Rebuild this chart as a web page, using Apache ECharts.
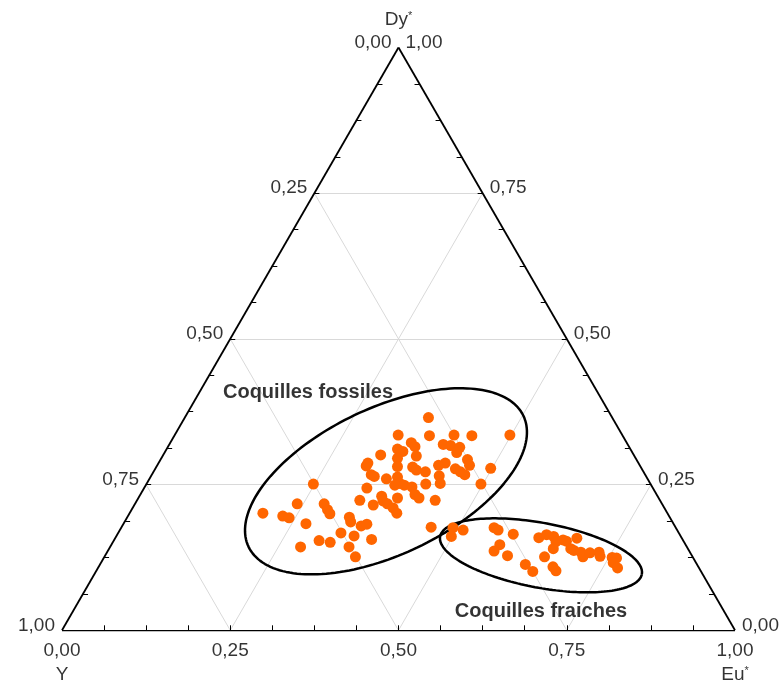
<!DOCTYPE html>
<html>
<head>
<meta charset="utf-8">
<script src="https://cdn.jsdelivr.net/npm/echarts@6/dist/echarts.min.js"></script>
<style>html,body{margin:0;padding:0;background:#fff}#chart{width:783px;height:684px}</style>
</head>
<body>
<div id="chart"></div>
<script>
// Ternary components: Eu* (bottom), Dy* (apex), Y = 1 - Eu* - Dy*
const fossilEu = [0.198,0.230,0.241,0.241,0.271,0.283,0.248,0.305,0.323,0.281,0.291,0.298,0.331,0.330,0.336,0.353,0.355,0.373,0.355,0.362,0.382,0.331,0.331,0.355,0.360,0.366,0.375,0.387,0.397,0.385,0.311,0.311,0.326,0.332,0.323,0.352,0.332,0.343,0.353,0.351,0.358,0.367,0.376,0.370,0.384,0.397,0.408,0.417,0.358,0.367,0.377,0.381,0.389,0.404,0.415,0.362,0.379,0.443,0.428,0.436,0.407,0.419,0.415,0.434,0.434,0.442,0.426,0.418,0.446,0.456,0.465,0.456,0.464,0.498,0.497,0.498,0.460];
const fossilDy = [0.201,0.196,0.193,0.217,0.183,0.143,0.251,0.154,0.151,0.217,0.207,0.200,0.167,0.194,0.186,0.162,0.143,0.126,0.179,0.182,0.156,0.223,0.244,0.215,0.230,0.222,0.217,0.210,0.201,0.227,0.282,0.287,0.267,0.264,0.301,0.260,0.335,0.311,0.307,0.295,0.281,0.263,0.252,0.249,0.249,0.246,0.233,0.227,0.322,0.315,0.299,0.280,0.275,0.272,0.251,0.365,0.334,0.223,0.265,0.252,0.319,0.317,0.335,0.314,0.305,0.334,0.287,0.283,0.277,0.272,0.267,0.293,0.283,0.278,0.251,0.335,0.177];
const freshEu = [0.493,0.498,0.510,0.554,0.562,0.588,0.577,0.574,0.598,0.632,0.649,0.629,0.638,0.650,0.658,0.667,0.673,0.686,0.660,0.654,0.686,0.692,0.704,0.711,0.718,0.731,0.736,0.675,0.683,0.755,0.762,0.761,0.772];
const freshDy = [0.176,0.161,0.172,0.176,0.172,0.165,0.147,0.136,0.128,0.113,0.101,0.159,0.164,0.161,0.152,0.155,0.153,0.158,0.140,0.126,0.140,0.137,0.134,0.126,0.133,0.134,0.127,0.109,0.102,0.125,0.124,0.116,0.107];

const tickValues = [0, 0.25, 0.5, 0.75, 1];
const tickLabels = ['0,00', '0,25', '0,50', '0,75', '1,00'];
const minorStep = 1/16;
const groupLabels = ['Coquilles fossiles', 'Coquilles fraiches'];

const H = Math.sqrt(3) / 2;
function tern(eu, dy) { return [eu + dy / 2, dy * H]; }

const chart = echarts.init(document.getElementById('chart'), null, {renderer: 'canvas'});
const FONT = '"Liberation Sans", Arial, sans-serif';

const edges = [
  {coords: [tern(0,0), tern(1,0)]},
  {coords: [tern(1,0), tern(0,1)]},
  {coords: [tern(0,1), tern(0,0)]}
];
const grid = [];
[0.25, 0.5, 0.75].forEach(v => {
  grid.push({coords: [tern(0, v), tern(1 - v, v)]});
  grid.push({coords: [tern(v, 0), tern(v, 1 - v)]});
  grid.push({coords: [tern(1 - v, 0), tern(0, 1 - v)]});
});
const tl = 5 / 673;
const ticks = [];
for (let k = 1; k < 16; k++) {
  const v = k * minorStep;
  const b = tern(v, 0); ticks.push({coords: [b, [b[0], b[1] + tl]]});
  const l = tern(0, v); ticks.push({coords: [l, [l[0] + tl, l[1]]]});
  const r = tern(1 - v, v); ticks.push({coords: [r, [r[0] - tl, r[1]]]});
}

function ellipse(cx, cy, a, b, deg) {
  const t = deg * Math.PI / 180, pts = [];
  for (let i = 0; i <= 180; i++) {
    const p = i / 180 * 2 * Math.PI;
    const x = a * Math.cos(p), y = b * Math.sin(p);
    pts.push([cx + x * Math.cos(t) - y * Math.sin(t), cy + x * Math.sin(t) + y * Math.cos(t)]);
  }
  return pts;
}

const labelStyle = {fontFamily: FONT, fontSize: 19, color: '#000'};

const bottomLabels = tickValues.map((v, i) => ({value: tern(v, 0), label: {formatter: tickLabels[i]}}));
const leftLabels = tickValues.map((v, i) => ({value: tern(0, 1 - v), label: {formatter: tickLabels[i]}}));
const rightLabels = tickValues.map((v, i) => ({value: tern(1 - v, v), label: {formatter: tickLabels[i]}}));

chart.setOption({
  animation: false,
  grid: {left: 62, top: 47.5, width: 673, height: 582.8},
  xAxis: {type: 'value', min: 0, max: 1, show: false},
  yAxis: {type: 'value', min: 0, max: H, show: false},
  series: [
    {type: 'lines', coordinateSystem: 'cartesian2d', data: grid, silent: true,
      lineStyle: {color: '#d9d9d9', width: 1, opacity: 1}, z: 1},
    {type: 'lines', coordinateSystem: 'cartesian2d', data: edges, silent: true,
      lineStyle: {color: '#000', width: 1.8, opacity: 1}, z: 3},
    {type: 'lines', coordinateSystem: 'cartesian2d', data: ticks, silent: true,
      lineStyle: {color: '#000', width: 1, opacity: 1}, z: 3},
    {type: 'line', data: ellipse(0.4814, 0.2214, 0.2262, 0.1088, 25.5), showSymbol: false,
      lineStyle: {color: '#000', width: 2.5}, z: 4, silent: true},
    {type: 'line', data: ellipse(0.7117, 0.1114, 0.1525, 0.0481, -10.6), showSymbol: false,
      lineStyle: {color: '#000', width: 2.5}, z: 4, silent: true},
    {type: 'scatter', name: groupLabels[0], data: fossilEu.map((e, i) => tern(e, fossilDy[i])),
      symbolSize: 11, itemStyle: {color: '#FF6600', opacity: 1}, z: 5},
    {type: 'scatter', name: groupLabels[1], data: freshEu.map((e, i) => tern(e, freshDy[i])),
      symbolSize: 11, itemStyle: {color: '#FF6600', opacity: 1}, z: 5},
    {type: 'scatter', symbolSize: 0, data: bottomLabels, silent: true,
      label: Object.assign({show: true, position: 'bottom', distance: 11}, labelStyle)},
    {type: 'scatter', symbolSize: 0, data: leftLabels, silent: true,
      label: Object.assign({show: true, position: 'left', distance: 7, offset: [0, -5]}, labelStyle)},
    {type: 'scatter', symbolSize: 0, data: rightLabels, silent: true,
      label: Object.assign({show: true, position: 'right', distance: 7, offset: [0, -5]}, labelStyle)},
    {type: 'scatter', symbolSize: 0, silent: true,
      data: [
        {value: tern(0, 0), label: {formatter: 'Y', position: 'bottom', distance: 35}},
        {value: tern(1, 0), label: {formatter: 'Eu{s|*}', position: 'bottom', distance: 35}},
        {value: tern(0, 1), label: {formatter: 'Dy{s|*}', position: 'top', distance: 18}}
      ],
      label: Object.assign({show: true, rich: {s: {fontFamily: FONT, fontSize: 11, color: '#000', verticalAlign: 'top', padding: [0,0,8,0]}}}, labelStyle)},
    {type: 'scatter', symbolSize: 0, silent: true,
      data: [
        {value: [(308 - 62) / 673, (630 - 392) / 673], label: {formatter: groupLabels[0]}},
        {value: [(541 - 62) / 673, (630 - 611) / 673], label: {formatter: groupLabels[1]}}
      ],
      label: {show: true, position: 'inside', fontFamily: FONT, fontSize: 20, fontWeight: 'bold', color: '#000'}}
  ]
});
</script>
</body>
</html>
